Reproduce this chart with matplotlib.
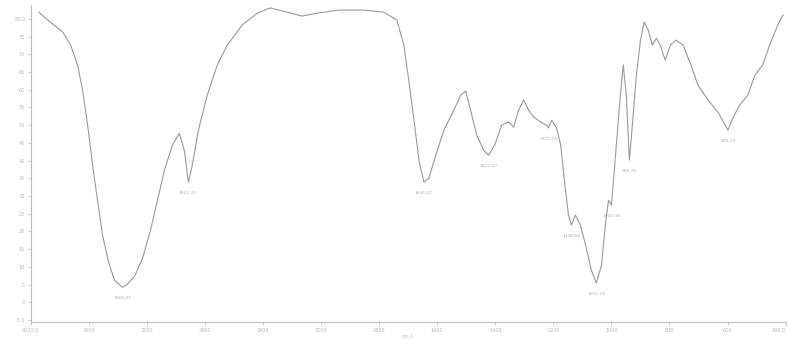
import numpy as np
import matplotlib
matplotlib.use("Agg")
import matplotlib.pyplot as plt

# FTIR spectrum, wavenumber (cm-1) against %T
wavenumber = [3945, 3883, 3780, 3725, 3677, 3643, 3608, 3574, 3540, 3505, 3464, 3423,
              3368, 3334, 3285, 3230, 3175, 3127, 3079, 3024, 2976, 2942, 2914, 2887,
              2845, 2784, 2715, 2646, 2543, 2440, 2351, 2234, 2131, 2028, 1938, 1852,
              1784, 1739, 1715, 1698, 1680, 1663, 1646, 1629, 1605, 1577, 1543, 1519,
              1502, 1485, 1464, 1440, 1423, 1402, 1378, 1354, 1337, 1320, 1302, 1285,
              1268, 1244, 1223, 1217, 1206, 1189, 1175, 1162, 1148, 1138, 1124, 1107,
              1089, 1069, 1052, 1034, 1021, 1010, 1000, 990, 979, 969, 959, 949,
              938, 928, 914, 900, 887, 873, 859, 845, 832, 815, 797, 777,
              753, 726, 702, 667, 633, 599, 582, 558, 530, 506, 479, 455,
              427, 409]
transmittance = [81.9, 79.7, 76.3, 72.6, 66.9, 59.9, 50.0, 38.7, 28.8, 18.9, 11.3, 6.2,
                 4.2, 5.1, 7.3, 12.4, 20.3, 28.8, 37.3, 44.4, 47.7, 42.9, 33.9, 38.7,
                 48.6, 58.5, 67.0, 72.6, 78.3, 81.6, 83.1, 81.9, 80.8, 81.6, 82.5, 82.5,
                 81.9, 79.7, 72.6, 62.7, 51.4, 40.1, 33.9, 35.0, 41.5, 48.6, 54.2, 58.5,
                 59.6, 54.2, 47.2, 42.9, 41.5, 44.4, 50.0, 50.9, 49.4, 54.2, 57.1, 54.2,
                 52.3, 50.9, 50.0, 49.2, 51.4, 49.2, 44.4, 34.5, 24.6, 21.8, 24.6, 21.8,
                 16.1, 9.0, 5.4, 10.5, 21.8, 28.8, 27.4, 37.3, 48.6, 58.5, 67.0, 58.5,
                 40.1, 50.0, 64.1, 74.0, 79.1, 76.8, 72.6, 74.6, 72.6, 68.4, 72.6, 74.0,
                 72.6, 66.9, 61.3, 57.1, 53.7, 48.6, 52.0, 55.7, 58.5, 64.1, 67.0, 72.6,
                 78.3, 81.1]

# labelled band minima
peak_wn = [3368.41, 2921.35, 1646.27, 1423.10, 1217.54, 1138.62, 1052.19, 1000.48, 938.76, 599.23]
peak_t = [4.2, 33.9, 33.9, 41.5, 49.2, 21.8, 5.4, 27.4, 40.1, 48.6]

x_ticks = [4000, 3600, 3200, 2800, 2400, 2000, 1800, 1600, 1400, 1200, 1000, 800, 600, 400]
x_labels = ["4000.0", "3600", "3200", "2800", "2400", "2000", "1800", "1600",
            "1400", "1200", "1000", "800", "600", "400.0"]
y_ticks = list(range(-5, 85, 5))


# scale doubles below 2000 cm-1
def fwd(w):
    w = np.asarray(w, dtype=float)
    return np.where(w >= 2000, w / 400.0, 5 + (w - 2000) / 200.0)


def inv(u):
    u = np.asarray(u, dtype=float)
    return np.where(u >= 5, u * 400.0, 2000 + (u - 5) * 200.0)


fig = plt.figure(figsize=(7.88, 3.39), dpi=100)
ax = fig.add_axes([0.039, 0.05, 0.958, 0.935])
ax.set_xscale("function", functions=(fwd, inv))

ax.plot(wavenumber, transmittance, color="#9a9a9a", lw=0.8)

for w, t in zip(peak_wn, peak_t):
    ax.annotate("%.2f" % w, (w, t), xytext=(0, -8), textcoords="offset points",
                ha="center", va="center", fontsize=3.2, color="#b0b0b0")

ax.set_xlim(4000, 400)
ax.set_ylim(-5.6, 83.9)
ax.set_xticks(x_ticks)
ax.set_xticklabels(x_labels)
ax.get_xticklabels()[-1].set_ha("right")
ax.set_yticks(y_ticks)
ax.set_yticklabels(["-5.0"] + [str(v) for v in y_ticks[1:-1]] + ["80.0"])
ax.tick_params(labelsize=3.5, colors="#b8b8b8", length=2, width=0.5, pad=2)
for s in ["top", "right"]:
    ax.spines[s].set_visible(False)
for s in ["left", "bottom"]:
    ax.spines[s].set_color("#bdbdbd")
    ax.spines[s].set_linewidth(0.8)

ax.set_xlabel("cm-1", fontsize=3.5, color="#c0c0c0", labelpad=1)

fig.savefig("out.png", dpi=100)
